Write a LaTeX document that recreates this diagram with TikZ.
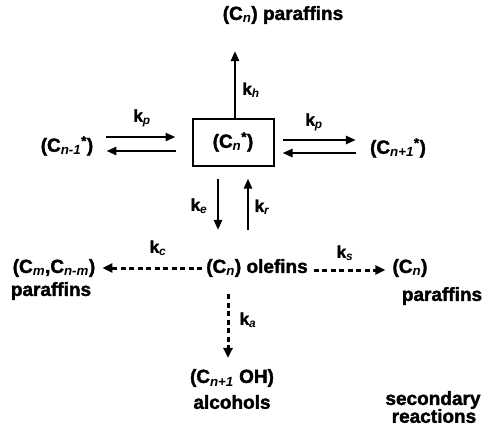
\documentclass[tikz,border=0pt]{standalone}
\usepackage{fontspec}
\setmainfont[BoldFeatures={FakeBold=1.8}]{Liberation Sans}
\usetikzlibrary{arrows.meta}
\newcommand\sbs[1]{\textsubscript{\itshape #1}}
\newcommand\rad{\textsuperscript{*}}
\begin{document}
\begin{tikzpicture}[x=1pt,y=-1pt,
  txt/.style={inner sep=1pt,font=\fontsize{19}{21}\selectfont\bfseries},
  lbl/.style={inner sep=1pt,font=\fontsize{17}{19}\selectfont\bfseries},
  arr/.style={line width=2.8pt,-{Triangle[length=10pt,width=8pt]}},
  darr/.style={line width=3pt,dash pattern=on 5pt off 3.5pt,-{Triangle[length=10pt,width=9pt]}}]
\useasboundingbox (0,0) rectangle (488,426);
% nodes
\node[txt] (top) at (283,15) {(C\sbs{n}) paraffins};
\node[txt,draw,line width=2pt,minimum width=81pt,minimum height=47pt] (box) at (233,142) {(C\sbs{n}\rad)};
\node[txt] (lft) at (67,146) {(C\sbs{n-1}\rad)};
\node[txt] (rgt) at (398,148) {(C\sbs{n+1}\rad)};
\node[txt] (ole) at (257,268) {(C\sbs{n}) olefins};
\node[txt] (pl) at (54,268) {(C\sbs{m},C\sbs{n-m})};
\node[txt] (pl2) at (51,291) {paraffins};
\node[txt] (pr) at (410,268) {(C\sbs{n})};
\node[txt] (pr2) at (442,296) {paraffins};
\node[txt] (alc) at (232,378) {(C\sbs{n+1} OH)};
\node[txt] (alc2) at (232,402) {alcohols};
\node[txt] (sec) at (433,400) {secondary};
\node[txt] (sec2) at (434,416) {reactions};
% helper x positions
\coordinate (xh) at (235,0);
\coordinate (xe) at (218,0);
\coordinate (xr) at (248,0);
\coordinate (xa) at (228,0);
% connectors
\draw[arr,shorten >=26pt] (xh |- box.north) -- (xh |- top.south);
\node[lbl] (kh) at (251,90) {k\sbs{h}};
\draw[arr,shorten <=12pt,shorten >=16pt] (lft.east |- 0,137) -- (box.west |- 0,137);
\draw[arr,shorten <=16pt,shorten >=12pt] (box.west |- 0,151) -- (lft.east |- 0,151);
\node[lbl] (kp1) at (142,118) {k\sbs{p}};
\draw[arr,shorten <=8pt,shorten >=13pt] (box.east |- 0,140) -- (rgt.west |- 0,140);
\draw[arr,shorten <=13pt,shorten >=8pt] (rgt.west |- 0,153) -- (box.east |- 0,153);
\node[lbl] (kp2) at (314,122) {k\sbs{p}};
\draw[arr,shorten <=12pt,shorten >=28pt] (xe |- box.south) -- (xe |- ole.north);
\draw[arr,shorten <=28pt,shorten >=12pt] (xr |- ole.north) -- (xr |- box.south);
\node[lbl] (ke) at (199,206) {k\sbs{e}};
\node[lbl] (kr) at (262,207) {k\sbs{r}};
\draw[darr,shorten <=3pt,shorten >=6pt] (ole.west) -- (pl.east);
\node[lbl] (kc) at (158,248) {k\sbs{c}};
\draw[darr,shorten <=5pt,shorten >=6pt] (ole.east |- 0,270) -- (pr.west |- 0,270);
\node[lbl] (ks) at (345,253) {k\sbs{s}};
\draw[darr,shorten <=16pt,shorten >=10pt] (xa |- ole.south) -- (xa |- alc.north);
\node[lbl] (ka) at (248,320) {k\sbs{a}};
\end{tikzpicture}
\end{document}
